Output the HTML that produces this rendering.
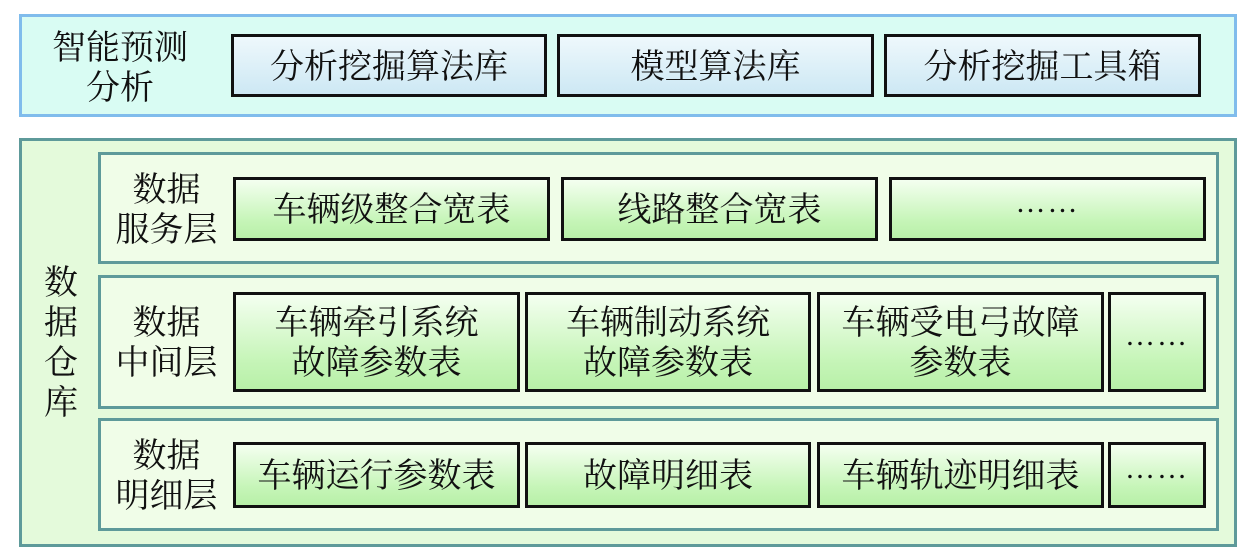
<!DOCTYPE html>
<html><head><meta charset="utf-8"><style>
body{margin:0;width:1260px;height:557px;background:#fff;position:relative;overflow:hidden;font-family:"Liberation Serif","Noto Serif CJK SC","Noto Sans CJK SC",serif;color:#111}
div{position:absolute;box-sizing:border-box}
.t{display:flex;align-items:center;justify-content:center;text-align:center;font-size:34px;line-height:40px;white-space:nowrap;padding-top:4px}
.d{letter-spacing:2px;font-size:30px;padding-top:0;padding-bottom:12px}
.b{border:3px solid #111;background:linear-gradient(#f4fff0,#c6f5b8 70%,#b8f0a8)}
.bb{border:3px solid #111;background:linear-gradient(#eef8fc,#cde8f4)}
.p{background:#f0fde8;border:3px solid #5e9a9a}
</style></head><body>
<div style="left:19px;top:14px;width:1218px;height:103px;background:#d9fcf3;border:3px solid #80bcec"></div>
<div class="t" style="left:40px;top:26px;width:160px;height:82px">智能预测<br>分析</div>
<div class="t bb" style="left:231px;top:34px;width:316px;height:63px">分析挖掘算法库</div>
<div class="t bb" style="left:557px;top:34px;width:317px;height:63px">模型算法库</div>
<div class="t bb" style="left:884px;top:34px;width:317px;height:63px">分析挖掘工具箱</div>

<div style="left:19px;top:138px;width:1218px;height:409px;background:#e4fadb;border:3px solid #5e9a9a"></div>
<div class="t" style="left:38px;top:262px;width:46px;height:160px">数<br>据<br>仓<br>库</div>

<div class="p" style="left:98px;top:152px;width:1121px;height:112px"></div>
<div class="t" style="left:100px;top:168px;width:133px;height:82px">数据<br>服务层</div>
<div class="t b" style="left:233px;top:177px;width:317px;height:64px">车辆级整合宽表</div>
<div class="t b" style="left:561px;top:177px;width:317px;height:64px">线路整合宽表</div>
<div class="t b d" style="left:889px;top:177px;width:317px;height:64px">……</div>

<div class="p" style="left:98px;top:275px;width:1121px;height:134px"></div>
<div class="t" style="left:100px;top:301px;width:133px;height:82px">数据<br>中间层</div>
<div class="t b" style="left:233px;top:292px;width:287px;height:100px">车辆牵引系统<br>故障参数表</div>
<div class="t b" style="left:525px;top:292px;width:286px;height:100px">车辆制动系统<br>故障参数表</div>
<div class="t b" style="left:817px;top:292px;width:287px;height:100px">车辆受电弓故障<br>参数表</div>
<div class="t b d" style="left:1108px;top:292px;width:98px;height:100px">……</div>

<div class="p" style="left:98px;top:418px;width:1121px;height:113px"></div>
<div class="t" style="left:100px;top:434px;width:133px;height:82px">数据<br>明细层</div>
<div class="t b" style="left:233px;top:442px;width:287px;height:66px">车辆运行参数表</div>
<div class="t b" style="left:525px;top:442px;width:286px;height:66px">故障明细表</div>
<div class="t b" style="left:817px;top:442px;width:287px;height:66px">车辆轨迹明细表</div>
<div class="t b d" style="left:1108px;top:442px;width:98px;height:66px">……</div>
</body></html>
